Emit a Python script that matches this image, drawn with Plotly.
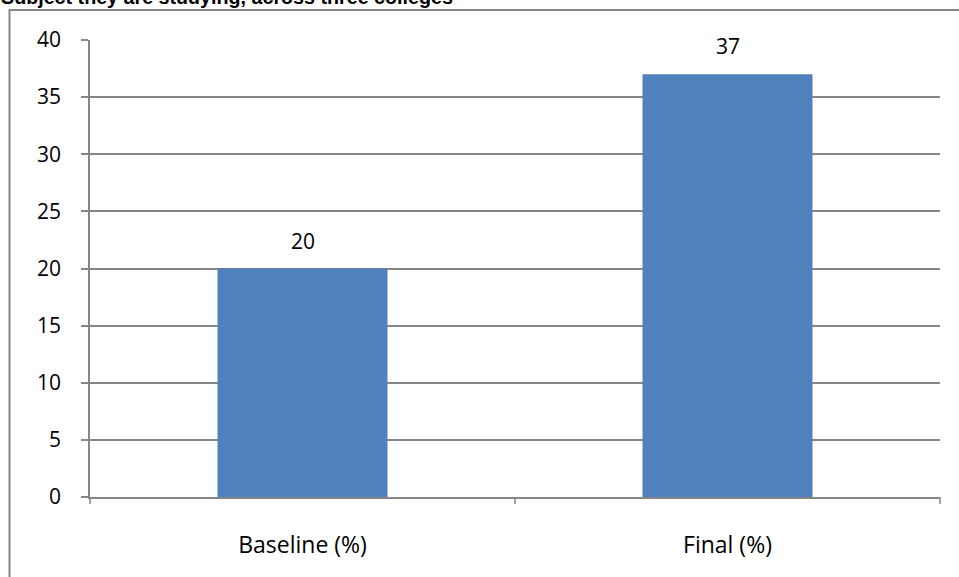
import plotly.graph_objects as go

categories = ["Baseline (%)", "Final (%)"]
values = [20, 37]
y_ticks = [0, 5, 10, 15, 20, 25, 30, 35, 40]
title_text = "Subject they are studying, across three colleges"

W, H = 959, 577
ML, MR, MT, MB = 90, 19, 40, 80
plot_w = W - ML - MR
plot_h = H - MT - MB

axis_grey = "#868686"
bar_blue = "#4F81BD"
label_font = "Open Sans, Liberation Sans, sans-serif"
title_font = "Liberation Sans, Arial, sans-serif"

fig = go.Figure()
fig.add_trace(go.Bar(
    x=categories,
    y=values,
    marker=dict(color=bar_blue, line=dict(width=0)),
    width=0.4,
    hoverinfo="x+y",
))

# value labels above each bar
for cat, val in zip(categories, values):
    fig.add_annotation(
        x=cat, y=val, xref="x", yref="y",
        text=str(val), showarrow=False,
        yanchor="bottom", yshift=12,
        font=dict(size=21, color="#000000", family=label_font),
    )


def px_to_paper_x(px):
    return (px - ML) / plot_w


def px_to_paper_y(py):
    return (H - MB - py) / plot_h


# outer chart frame (runs off the right and bottom edges)
fig.add_shape(type="rect", xref="paper", yref="paper",
              x0=px_to_paper_x(9.5), x1=px_to_paper_x(1100),
              y0=px_to_paper_y(700), y1=px_to_paper_y(10),
              line=dict(color=axis_grey, width=2), fillcolor="rgba(0,0,0,0)",
              layer="below")

# category separator ticks on the x axis
for px in (ML, ML + plot_w / 2, ML + plot_w):
    fig.add_shape(type="line", xref="paper", yref="paper",
                  x0=px_to_paper_x(px), x1=px_to_paper_x(px),
                  y0=0, y1=px_to_paper_y(H - MB + 7),
                  line=dict(color=axis_grey, width=1.5))

fig.add_annotation(
    text="<b>" + title_text + "</b>",
    xref="paper", yref="paper",
    x=px_to_paper_x(-1), xanchor="left",
    y=px_to_paper_y(10), yanchor="bottom",
    showarrow=False,
    font=dict(size=19.7, color="#000000", family=title_font),
)

fig.update_layout(
    width=W, height=H,
    margin=dict(l=ML, r=MR, t=MT, b=MB, pad=0),
    paper_bgcolor="white",
    plot_bgcolor="white",
    showlegend=False,
    font=dict(family=label_font, size=21, color="#000000"),
    xaxis=dict(
        showline=True, linecolor=axis_grey, linewidth=1.5,
        ticks="", showgrid=False,
        tickfont=dict(size=23, family=label_font),
        ticklabelstandoff=27,
        range=[-0.5, 1.5],
    ),
    yaxis=dict(
        range=[0, 40],
        tickvals=y_ticks,
        showline=True, linecolor=axis_grey, linewidth=1.5,
        ticks="outside", ticklen=7, tickcolor=axis_grey, tickwidth=1.5,
        showgrid=True, gridcolor=axis_grey, gridwidth=1.5,
        tickfont=dict(size=21, family=label_font),
        ticklabelstandoff=16,
        zeroline=False,
    ),
)

fig.write_html("out.html")
